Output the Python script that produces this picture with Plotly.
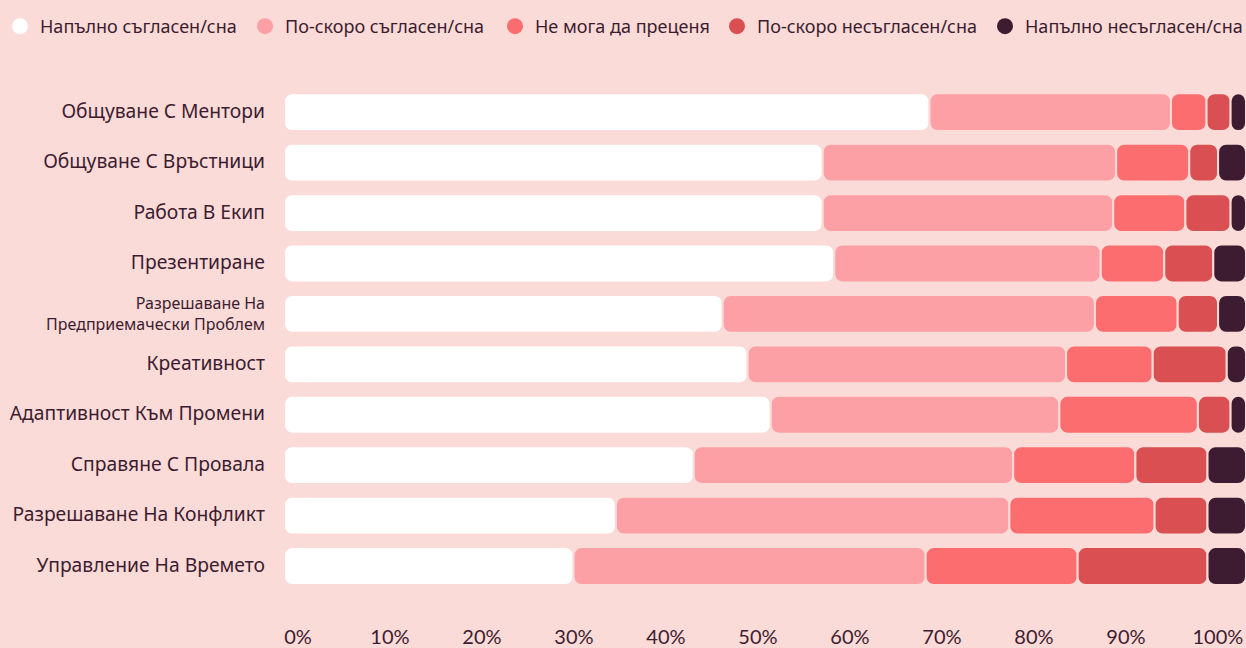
import plotly.graph_objects as go

categories = [
    "Общуване С Ментори",
    "Общуване С Връстници",
    "Работа В Екип",
    "Презентиране",
    "Разрешаване На Предприемачески Проблем",
    "Креативност",
    "Адаптивност Към Промени",
    "Справяне С Провала",
    "Разрешаване На Конфликт",
    "Управление На Времето",
]

category_labels = [
    "<span style='font-size:19.3px'>Общуване С Ментори</span>",
    "<span style='font-size:19.3px'>Общуване С Връстници</span>",
    "<span style='font-size:19.3px'>Работа В Екип</span>",
    "<span style='font-size:19.3px'>Презентиране</span>",
    "Разрешаване На<br>Предприемачески Проблем",
    "<span style='font-size:19.3px'>Креативност</span>",
    "<span style='font-size:19.3px'>Адаптивност Към Промени</span>",
    "<span style='font-size:19.3px'>Справяне С Провала</span>",
    "<span style='font-size:19.3px'>Разрешаване На Конфликт</span>",
    "<span style='font-size:19.3px'>Управление На Времето</span>",
]

series_names = [
    "Напълно съгласен/сна",
    "По-скоро съгласен/сна",
    "Не мога да преценя",
    "По-скоро несъгласен/сна",
    "Напълно несъгласен/сна",
]

fully_agree = [67.1, 56.0, 56.0, 57.2, 45.6, 48.2, 50.6, 42.6, 34.5, 30.1]
rather_agree = [25.1, 30.5, 30.2, 27.7, 38.7, 33.1, 30.0, 33.2, 40.9, 36.6]
cannot_judge = [3.7, 7.6, 7.5, 6.6, 8.6, 9.0, 14.4, 12.7, 15.1, 15.8]
rather_disagree = [2.5, 3.0, 4.7, 5.1, 4.2, 7.7, 3.4, 7.5, 5.5, 13.5]
fully_disagree = [1.6, 2.9, 1.6, 3.4, 2.9, 2.0, 1.6, 4.0, 4.0, 4.0]

series_values = [fully_agree, rather_agree, cannot_judge, rather_disagree, fully_disagree]
colors = ["#FFFFFF", "#FCA0A5", "#FC6D70", "#DA4F51", "#3D1B30"]

tick_vals = [0, 10, 20, 30, 40, 50, 60, 70, 80, 90, 100]
tick_text = [f"{v}%" for v in tick_vals]

# legend item left positions (pixels in the 1246-wide page)
legend_left_px = [-2, 245, 495, 717, 985]

BG = "#FADBD7"
TXT = "#3D1B30"
FONT = "Noto Sans"
W, H = 1246, 648

fig = go.Figure()

bases = [0.0] * len(categories)
for name, vals, col in zip(series_names, series_values, colors):
    fig.add_trace(go.Bar(
        y=categories,
        x=vals,
        base=list(bases),
        orientation="h",
        name=name,
        marker=dict(color=col, line=dict(color=BG, width=2), cornerradius=8),
        showlegend=False,
        hoverinfo="x+y",
    ))
    bases = [b + v for b, v in zip(bases, vals)]

legend_layouts = {}
for i, (name, col, lx) in enumerate(zip(series_names, colors, legend_left_px)):
    key = "legend" if i == 0 else f"legend{i + 1}"
    fig.add_trace(go.Scatter(
        x=[None], y=[None], mode="markers", name=name,
        marker=dict(color=col, size=17, symbol="circle"),
        showlegend=True, legend=key,
    ))
    legend_layouts[key] = dict(
        orientation="h", xref="container", yref="container",
        x=max(lx, 0) / W, y=1 - 8 / H, xanchor="left", yanchor="top",
        font=dict(size=18, color=TXT, family=FONT),
        itemclick=False, itemdoubleclick=False, itemwidth=30,
        bgcolor="rgba(0,0,0,0)",
    )

fig.update_layout(
    width=W, height=H,
    paper_bgcolor=BG, plot_bgcolor=BG,
    barmode="overlay", bargap=0.25,
    margin=dict(l=284, r=0, t=87, b=22),
    font=dict(family=FONT, color=TXT, size=16),
    xaxis=dict(range=[0, 100], showgrid=False, zeroline=False,
               showticklabels=False, fixedrange=True),
    xaxis2=dict(overlaying="x", side="bottom", anchor="y",
                range=[-1.52, 103.05], tickvals=tick_vals, ticktext=tick_text,
                showgrid=False, zeroline=False, ticks="",
                tickfont=dict(size=20, color=TXT, family="Lato"), fixedrange=True),
    yaxis=dict(categoryorder="array", categoryarray=categories,
               tickvals=categories, ticktext=category_labels,
               range=[10.13, -0.5], showgrid=False, zeroline=False,
               ticks="", ticklabelstandoff=18,
               tickfont=dict(size=16, color=TXT, family=FONT), fixedrange=True),
    **legend_layouts,
)

# dummy trace to activate xaxis2
fig.add_trace(go.Scatter(x=[None], y=[None], xaxis="x2", yaxis="y",
                         showlegend=False, hoverinfo="skip"))

fig.write_html(
    "out.html",
    config={"displayModeBar": False},
    post_script="document.body.style.margin='0';document.body.style.background='#FADBD7';",
)
